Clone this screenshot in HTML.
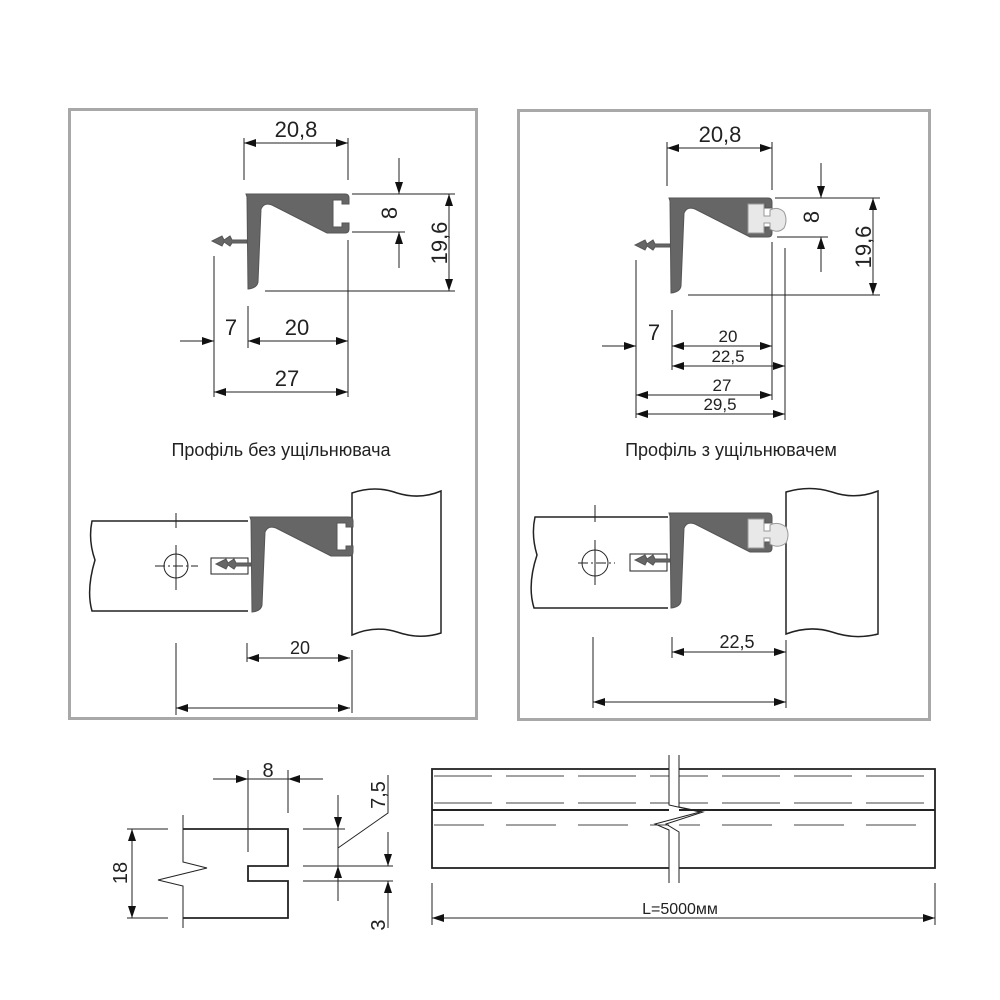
<!DOCTYPE html>
<html><head><meta charset="utf-8"><style>
html,body{margin:0;padding:0;background:#fff}
svg{display:block}
text{font-family:"Liberation Sans",Arial,sans-serif;fill:#222}
</style></head><body>
<svg width="1000" height="1000" viewBox="0 0 1000 1000" xmlns="http://www.w3.org/2000/svg">
<defs>
<marker id="a" viewBox="0 0 12 8" refX="12" refY="4" markerWidth="12" markerHeight="8" markerUnits="userSpaceOnUse" orient="auto-start-reverse"><path d="M0,0 L12,4 L0,8 Z" fill="#111"/></marker>
<g id="prof">
<path d="M2,0 H101 Q105,0 105,4 V10 H98 V6 H89 V33 H98 V29 H105 V35 Q105,39 101,39 H83 L28,11 Q20,8 17,15 L14,88 Q13,94 4,95 L3,3 Z" fill="#666" stroke="#555" stroke-width="1"/>
<path d="M3,46 H-12 L-14,42 L-20,46 L-22,42 L-32,47 L-22,52 L-20,48 L-14,52 L-12,49 H3 Z" fill="#666" stroke="#555" stroke-width="1"/>
</g>
</defs>

<rect x="69.5" y="109.5" width="407" height="609" fill="none" stroke="#a8a8a8" stroke-width="3"/>
<rect x="518.5" y="110.5" width="411" height="609" fill="none" stroke="#a8a8a8" stroke-width="3"/>

<g stroke="#222" stroke-width="1" fill="none">
<line x1="244" y1="138" x2="244" y2="180"/><line x1="348" y1="138" x2="348" y2="180"/>
<line x1="244" y1="143" x2="348" y2="143" marker-start="url(#a)" marker-end="url(#a)"/>
<line x1="352" y1="194" x2="455" y2="194"/><line x1="352" y1="232" x2="405" y2="232"/>
<line x1="265" y1="291" x2="455" y2="291"/>
<line x1="399" y1="158" x2="399" y2="194" marker-end="url(#a)"/>
<line x1="399" y1="268" x2="399" y2="232" marker-end="url(#a)"/>
<line x1="449" y1="194" x2="449" y2="291" marker-start="url(#a)" marker-end="url(#a)"/>
<line x1="214" y1="256" x2="214" y2="397"/><line x1="248" y1="306" x2="248" y2="348"/>
<line x1="348" y1="240" x2="348" y2="397"/>
<line x1="180" y1="341" x2="214" y2="341" marker-end="url(#a)"/>
<line x1="248" y1="341" x2="348" y2="341" marker-start="url(#a)" marker-end="url(#a)"/>
<line x1="214" y1="392" x2="348" y2="392" marker-start="url(#a)" marker-end="url(#a)"/>

<line x1="667" y1="142" x2="667" y2="186"/><line x1="772" y1="142" x2="772" y2="190"/>
<line x1="667" y1="148" x2="772" y2="148" marker-start="url(#a)" marker-end="url(#a)"/>
<line x1="775" y1="198" x2="880" y2="198"/><line x1="777" y1="237" x2="828" y2="237"/>
<line x1="688" y1="295" x2="880" y2="295"/>
<line x1="821" y1="163" x2="821" y2="198" marker-end="url(#a)"/>
<line x1="821" y1="272" x2="821" y2="237" marker-end="url(#a)"/>
<line x1="873" y1="198" x2="873" y2="295" marker-start="url(#a)" marker-end="url(#a)"/>
<line x1="636" y1="260" x2="636" y2="418"/><line x1="672" y1="310" x2="672" y2="370"/>
<line x1="772" y1="242" x2="772" y2="400"/><line x1="785" y1="248" x2="785" y2="420"/>
<line x1="602" y1="346" x2="636" y2="346" marker-end="url(#a)"/>
<line x1="672" y1="346" x2="772" y2="346" marker-start="url(#a)" marker-end="url(#a)"/>
<line x1="672" y1="366" x2="785" y2="366" marker-start="url(#a)" marker-end="url(#a)"/>
<line x1="636" y1="395" x2="772" y2="395" marker-start="url(#a)" marker-end="url(#a)"/>
<line x1="636" y1="414" x2="785" y2="414" marker-start="url(#a)" marker-end="url(#a)"/>

<path d="M248,521 H92 Q88,540 95,560 Q86,590 92,611 H248" stroke-width="1.5"/>
<circle cx="176" cy="566" r="12"/>
<line x1="176" y1="513" x2="176" y2="528"/><line x1="176" y1="545" x2="176" y2="590"/>
<line x1="155" y1="566" x2="198" y2="566" stroke-dasharray="10,3,2,3"/>
<rect x="211" y="558" width="37" height="16"/>
<path d="M352,493 Q375,485 397,493 Q420,500 441,491 V633 Q420,640 397,632 Q375,625 352,635 Z" stroke-width="1.5" fill="#fff"/>
<line x1="247" y1="643" x2="247" y2="662"/><line x1="352" y1="650" x2="352" y2="713"/>
<line x1="247" y1="658" x2="350" y2="658" marker-start="url(#a)" marker-end="url(#a)"/>
<line x1="176" y1="643" x2="176" y2="715"/>
<line x1="176" y1="708" x2="350" y2="708" marker-start="url(#a)" marker-end="url(#a)"/>

<path d="M668,517 H535 Q531,535 537,555 Q527,585 534,608 H668" stroke-width="1.5"/>
<circle cx="595" cy="563" r="13"/>
<line x1="595" y1="505" x2="595" y2="522"/><line x1="595" y1="540" x2="595" y2="585"/>
<line x1="578" y1="563" x2="615" y2="563" stroke-dasharray="10,3,2,3"/>
<rect x="630" y="554" width="37" height="17"/>
<path d="M786,492 Q810,485 832,492 Q855,500 878,491 V634 Q855,640 832,632 Q810,625 786,634 Z" stroke-width="1.5" fill="#fff"/>
<line x1="672" y1="637" x2="672" y2="658"/><line x1="786" y1="640" x2="786" y2="708"/>
<line x1="672" y1="652" x2="786" y2="652" marker-start="url(#a)" marker-end="url(#a)"/>
<line x1="593" y1="637" x2="593" y2="708"/>
<line x1="593" y1="702" x2="786" y2="702" marker-start="url(#a)" marker-end="url(#a)"/>

<path d="M183,829 H288 V866 H248 V881 H288 V918 H183" stroke-width="1.8"/>
<path d="M183,815 V862 L207,868 L158,880 L183,886 V928" stroke-width="1"/>
<line x1="127" y1="829" x2="168" y2="829"/><line x1="127" y1="918" x2="168" y2="918"/>
<line x1="132" y1="829" x2="132" y2="918" marker-start="url(#a)" marker-end="url(#a)"/>
<line x1="248" y1="770" x2="248" y2="852"/><line x1="288" y1="770" x2="288" y2="813"/>
<line x1="213" y1="779" x2="248" y2="779" marker-end="url(#a)"/>
<line x1="323" y1="779" x2="288" y2="779" marker-end="url(#a)"/>
<line x1="248" y1="779" x2="288" y2="779"/>
<line x1="303" y1="829" x2="345" y2="829"/>
<line x1="303" y1="866" x2="393" y2="866"/><line x1="303" y1="881" x2="393" y2="881"/>
<line x1="338" y1="795" x2="338" y2="829" marker-end="url(#a)"/>
<line x1="338" y1="901" x2="338" y2="866" marker-end="url(#a)"/>
<line x1="338" y1="829" x2="338" y2="866"/>
<path d="M338,848 L388,813 V775"/>
<line x1="388" y1="832" x2="388" y2="866" marker-end="url(#a)"/>
<line x1="388" y1="928" x2="388" y2="881" marker-end="url(#a)"/>

<rect x="432" y="769" width="503" height="99" stroke-width="1.8"/>
<line x1="432" y1="810" x2="935" y2="810" stroke-width="2"/>
<g stroke-dasharray="58,14" stroke="#444">
<line x1="434" y1="776" x2="933" y2="776"/><line x1="434" y1="803" x2="933" y2="803"/><line x1="434" y1="825" x2="933" y2="825" stroke-dasharray="50,22"/>
</g>
<rect x="669" y="755" width="10" height="128" fill="#fff" stroke="none"/>
<path d="M669,755 V805 L700,812 L655,824 L669,830 V883" fill="none"/>
<path d="M679,755 V807 L703,812 L666,824 L679,832 V883" fill="none"/>
<line x1="432" y1="883" x2="432" y2="925"/><line x1="935" y1="883" x2="935" y2="925"/>
<line x1="432" y1="918" x2="935" y2="918" marker-start="url(#a)" marker-end="url(#a)"/>
</g>

<use href="#prof" x="244" y="194"/>
<use href="#prof" x="667" y="198"/>
<use href="#prof" x="248" y="517"/>
<use href="#prof" x="667" y="513"/>
<g fill="#e8e8e8" stroke="#999" stroke-width="1">
<path d="M748,204 H764 V216 H770 V210 Q778,206 784,212 Q788,220 784,228 Q778,234 770,229 V223 H764 V233 H748 Z"/>
<path d="M748,519 H764 V531 H770 V525 Q778,521 786,527 Q790,535 786,543 Q778,549 770,544 V538 H764 V548 H748 Z"/>
</g>

<text x="296" y="137" font-size="22" text-anchor="middle">20,8</text>
<text x="231" y="335" font-size="22" text-anchor="middle">7</text>
<text x="297" y="335" font-size="22" text-anchor="middle">20</text>
<text x="287" y="386" font-size="22" text-anchor="middle">27</text>
<text transform="translate(397,213) rotate(-90)" font-size="22" text-anchor="middle">8</text>
<text transform="translate(447,243) rotate(-90)" font-size="22" text-anchor="middle">19,6</text>
<text x="281" y="456" font-size="18" text-anchor="middle">Профіль без ущільнювача</text>
<text x="300" y="654" font-size="18" text-anchor="middle" fill="#333">20</text>

<text x="720" y="142" font-size="22" text-anchor="middle">20,8</text>
<text x="654" y="340" font-size="22" text-anchor="middle">7</text>
<text x="728" y="342" font-size="17" text-anchor="middle">20</text>
<text x="728" y="362" font-size="17" text-anchor="middle">22,5</text>
<text x="722" y="391" font-size="17" text-anchor="middle">27</text>
<text x="720" y="410" font-size="17" text-anchor="middle">29,5</text>
<text transform="translate(819,217) rotate(-90)" font-size="22" text-anchor="middle">8</text>
<text transform="translate(871,247) rotate(-90)" font-size="22" text-anchor="middle">19,6</text>
<text x="731" y="456" font-size="18" text-anchor="middle">Профіль з ущільнювачем</text>
<text x="737" y="648" font-size="18" text-anchor="middle" fill="#333">22,5</text>

<text x="268" y="777" font-size="20" text-anchor="middle">8</text>
<text transform="translate(127,873) rotate(-90)" font-size="20" text-anchor="middle">18</text>
<text transform="translate(385,795) rotate(-90)" font-size="20" text-anchor="middle">7,5</text>
<text transform="translate(385,925) rotate(-90)" font-size="20" text-anchor="middle">3</text>
<text x="680" y="914" font-size="16" text-anchor="middle" fill="#333">L=5000мм</text>
</svg>
</body></html>
